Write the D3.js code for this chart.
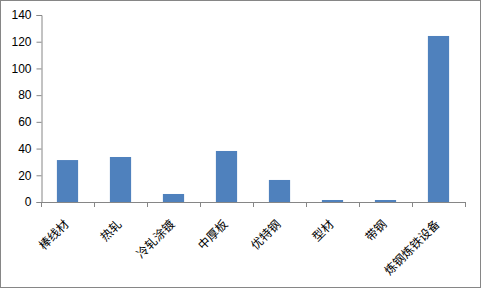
<!DOCTYPE html>
<html><head><meta charset="utf-8">
<script src="https://cdn.jsdelivr.net/npm/d3@7"></script>
<style>body{margin:0;background:#fff;}svg{display:block;}</style>
</head><body>
<script>
const categories = ["棒线材","热轧","冷轧涂镀","中厚板","优特钢","型材","带钢","炼钢炼铁设备"];
const values = [31.4, 33.7, 6, 38.2, 16.5, 1.5, 1.5, 124.3];
const yTicks = [0,20,40,60,80,100,120,140];

const W = 481, H = 289;
const svg = d3.select("body").append("svg").attr("width", W).attr("height", H);
svg.append("rect").attr("x",0.5).attr("y",0.5).attr("width",W-1).attr("height",H-2)
  .attr("fill","#fff").attr("stroke","#868686");

const mLeft = 41, mRight = 465, mTop = 15, mBottom = 202;
const x = d3.scaleBand().domain(categories).range([mLeft, mRight]).paddingInner(0.6).paddingOuter(0.3);
const y = d3.scaleLinear().domain([0,140]).range([mBottom, mTop]);

svg.selectAll("rect.bar").data(values).join("rect").attr("class","bar")
  .attr("x",(d,i)=>x(categories[i])).attr("width",x.bandwidth())
  .attr("y",d=>y(d)).attr("height",d=>y(0)-y(d)).attr("fill","#4f81bd");

// y axis
const yAxis = svg.append("g").attr("transform",`translate(${mLeft+0.5},0)`)
  .call(d3.axisLeft(y).tickValues(yTicks).tickSize(5).tickPadding(5).tickFormat(d3.format("d")));
yAxis.select(".domain").attr("stroke","#868686");
yAxis.selectAll(".tick line").attr("stroke","#868686");
yAxis.selectAll(".tick text").attr("font-family","'Liberation Sans', Arial, sans-serif").attr("font-size",12).attr("fill","#000");

// x axis
const step = (mRight-mLeft)/categories.length;
const xg = svg.append("g");
xg.append("line").attr("x1",mLeft).attr("x2",mRight+0.5).attr("y1",mBottom+0.5).attr("y2",mBottom+0.5).attr("stroke","#868686");
const bounds = d3.range(categories.length+1).map(i=>mLeft+i*step);
xg.selectAll("line.tk").data(bounds).join("line").attr("class","tk")
  .attr("x1",d=>Math.round(d)+0.5).attr("x2",d=>Math.round(d)+0.5)
  .attr("y1",mBottom).attr("y2",mBottom+5).attr("stroke","#868686");
xg.selectAll("text").data(categories).join("text")
  .attr("transform",d=>`translate(${x(d)+x.bandwidth()/2-4},${mBottom+17}) rotate(-45)`)
  .attr("text-anchor","end").attr("dy","0.7em")
  .attr("font-family","'Noto Sans CJK SC', sans-serif").attr("font-size",12).attr("fill","#000")
  .text(d=>d);
</script>
</body></html>
